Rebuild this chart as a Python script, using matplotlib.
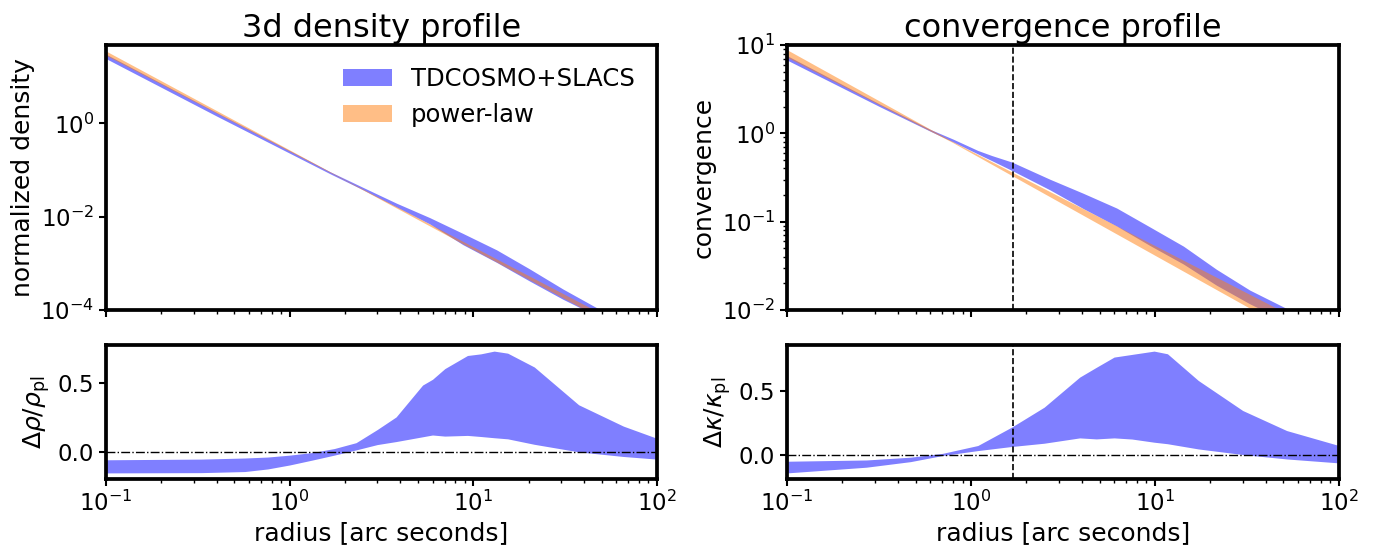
import numpy as np
import matplotlib
matplotlib.use("Agg")
import matplotlib.pyplot as plt
from matplotlib.ticker import NullLocator

# ---- data ----
# power-law band, 3d density (radius in arcsec)
pl_rho_r = [0.1, 1.98, 100]
pl_rho_hi = [35.6, 0.0635, 2.0e-5]
pl_rho_lo = [28.8, 0.0620, 1.5e-5]

# TDCOSMO+SLACS band, 3d density
tdc_rho_r = [0.1, 0.4, 1.66, 2.52, 3.82, 5.8, 8.8, 13.4, 20.3, 30.8, 48, 100]
tdc_rho_hi = [30.5, 1.72, 0.0923, 0.0422, 0.0195, 9.55e-3, 4.37e-3, 1.95e-3, 7.59e-4, 2.82e-4, 1.07e-4, 2.4e-5]
tdc_rho_lo = [24.5, 1.44, 0.0835, 0.0375, 0.0162, 7.0e-3, 2.51e-3, 1.05e-3, 4.17e-4, 1.70e-4, 7.2e-5, 1.5e-5]

# power-law band, convergence
pl_kap_r = [0.1, 0.79, 100]
pl_kap_hi = [8.85, 0.813, 4.55e-3]
pl_kap_lo = [7.28, 0.794, 2.87e-3]

# TDCOSMO+SLACS band, convergence
tdc_kap_r = [0.1, 0.32, 0.6, 0.8, 1.09, 1.3, 1.67, 2.69, 4.07, 6.2, 9.4, 14.3, 21.6, 32.8, 54, 100]
tdc_kap_hi = [7.59, 2.14, 1.109, 0.86, 0.64, 0.56, 0.473, 0.302, 0.210, 0.1426, 0.0871, 0.0528, 0.0289,
              0.0168, 0.0100, 5.0e-3]
tdc_kap_lo = [6.76, 2.00, 1.059, 0.80, 0.585, 0.49, 0.380, 0.229, 0.141, 0.0891, 0.0537, 0.0331, 0.0191,
              0.01175, 7.1e-3, 3.2e-3]

# relative difference to power-law, density
res_rho_r = [0.1, 0.33, 0.57, 0.76, 1.0, 1.33, 1.75, 2.3, 3.0, 3.8, 5.3, 6.0, 7.0, 9.3,
             11.0, 13.0, 15.4, 21.5, 37.5, 65.7, 100]
res_rho_hi = [-0.058, -0.053, -0.045, -0.038, -0.024, -0.005, 0.024, 0.067, 0.163, 0.255, 0.488,
              0.53, 0.608, 0.704, 0.716, 0.736, 0.721, 0.620, 0.344, 0.188, 0.099]
res_rho_lo = [-0.154, -0.152, -0.144, -0.125, -0.096, -0.060, -0.024, 0.014, 0.053, 0.075, 0.110,
              0.123, 0.115, 0.120, 0.112, 0.103, 0.095, 0.055, 0.0, -0.034, -0.053]

# relative difference to power-law, convergence
res_kap_r = [0.1, 0.27, 0.47, 0.70, 1.09, 1.66, 2.5, 3.9, 4.8, 6.0, 7.5, 9.9, 11.7, 17.2, 30, 52, 100]
res_kap_hi = [-0.05, -0.04, -0.018, 0.012, 0.074, 0.218, 0.376, 0.613, 0.69, 0.771, 0.792, 0.818,
              0.797, 0.587, 0.35, 0.192, 0.074]
res_kap_lo = [-0.142, -0.097, -0.053, -0.005, 0.034, 0.066, 0.092, 0.134, 0.126, 0.134, 0.125, 0.10,
              0.088, 0.047, 0.003, -0.032, -0.063]

theta_E = 1.7  # dashed line, arcsec

# ---- plotting ----
fs_tick = 16.5
fs_label = 18
spine_w = 2.7

fig = plt.figure(figsize=(13.84, 5.48), dpi=100)
ax1 = fig.add_axes([0.0766, 0.4343, 0.398, 0.4836])
ax2 = fig.add_axes([0.0766, 0.1259, 0.398, 0.2445], sharex=ax1)
ax3 = fig.add_axes([0.5686, 0.4343, 0.3988, 0.4836])
ax4 = fig.add_axes([0.5686, 0.1259, 0.3988, 0.2445], sharex=ax3)

ax1.fill_between(tdc_rho_r, tdc_rho_lo, tdc_rho_hi, color='b', alpha=0.5, lw=0, label='TDCOSMO+SLACS')
ax1.fill_between(pl_rho_r, pl_rho_lo, pl_rho_hi, color='C1', alpha=0.5, lw=0, label='power-law')
ax1.set_xscale('log')
ax1.set_yscale('log')
ax1.set_ylim(1e-4, 48)
ax1.set_yticks([1e-4, 1e-2, 1e0])
ax1.yaxis.set_minor_locator(NullLocator())
ax1.set_ylabel('normalized density', fontsize=fs_label)
ax1.set_title('3d density profile', fontsize=23)
ax1.legend(loc='upper right', fontsize=17.5, frameon=False)

ax2.fill_between(res_rho_r, res_rho_lo, res_rho_hi, color='b', alpha=0.5, lw=0)
ax2.axhline(0, color='k', linestyle='-.', linewidth=1)
ax2.set_ylabel(r'$\Delta \rho / \rho_{\rm pl}$', fontsize=fs_label)

ax3.fill_between(tdc_kap_r, tdc_kap_lo, tdc_kap_hi, color='b', alpha=0.5, lw=0)
ax3.fill_between(pl_kap_r, pl_kap_lo, pl_kap_hi, color='C1', alpha=0.5, lw=0)
ax3.axvline(theta_E, color='k', linestyle='--', linewidth=1.2)
ax3.set_xscale('log')
ax3.set_yscale('log')
ax3.set_ylim(1e-2, 10)
ax3.set_ylabel('convergence', fontsize=fs_label)
ax3.set_title('convergence profile', fontsize=23)

ax4.fill_between(res_kap_r, res_kap_lo, res_kap_hi, color='b', alpha=0.5, lw=0)
ax4.axhline(0, color='k', linestyle='-.', linewidth=1)
ax4.axvline(theta_E, color='k', linestyle='--', linewidth=1.2)
ax4.set_ylabel(r'$\Delta \kappa / \kappa_{\rm pl}$', fontsize=fs_label)

for ax in (ax2, ax4):
    ax.set_xlim(0.1, 100)
    ax.set_yticks([0.0, 0.5])
    ax.set_xlabel('radius [arc seconds]', fontsize=fs_label)

for ax in (ax1, ax3):
    plt.setp(ax.get_xticklabels(), visible=False)

for ax in (ax1, ax2, ax3, ax4):
    for s in ax.spines.values():
        s.set_linewidth(spine_w)
    ax.tick_params(which='major', labelsize=fs_tick, length=5, width=1.5)
    ax.tick_params(which='minor', length=3, width=1)

fig.savefig('out.png', dpi=100)
